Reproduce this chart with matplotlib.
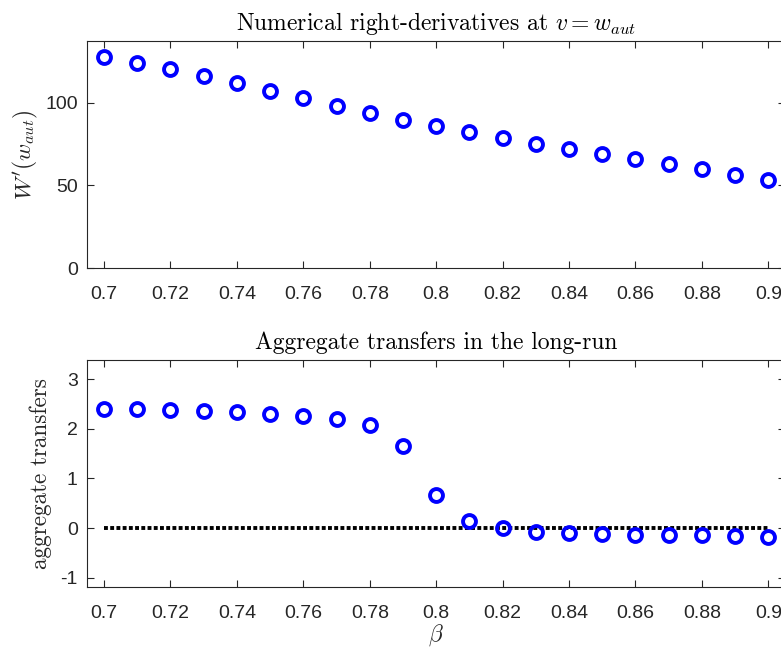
import matplotlib
matplotlib.use("Agg")
import matplotlib.pyplot as plt
import numpy as np

# discount factor grid
beta = [0.70, 0.71, 0.72, 0.73, 0.74, 0.75, 0.76, 0.77, 0.78, 0.79, 0.80,
        0.81, 0.82, 0.83, 0.84, 0.85, 0.86, 0.87, 0.88, 0.89, 0.90]

# numerical right-derivative of W at the autarky value
w_prime = [127.6, 123.9, 120.3, 116.1, 111.9, 107.4, 102.8, 98.3, 93.9, 89.8,
           85.9, 82.2, 78.8, 75.3, 72.3, 69.3, 66.3, 63.1, 59.9, 56.4, 53.2]

# long-run aggregate transfers
transfers = [2.40, 2.40, 2.38, 2.36, 2.34, 2.31, 2.27, 2.20, 2.07, 1.66, 0.66,
             0.15, 0.00, -0.07, -0.11, -0.13, -0.14, -0.15, -0.15, -0.16, -0.18]

xticks = [0.70, 0.72, 0.74, 0.76, 0.78, 0.80, 0.82, 0.84, 0.86, 0.88, 0.90]
xticklabels = ["0.7", "0.72", "0.74", "0.76", "0.78", "0.8", "0.82", "0.84",
               "0.86", "0.88", "0.9"]
yticks_top = [0, 50, 100]
yticks_bot = [-1, 0, 1, 2, 3]

plt.rcParams["mathtext.fontset"] = "cm"
plt.rcParams["axes.unicode_minus"] = False

tick_font = ["Liberation Sans", "DejaVu Sans"]
serif_font = ["cmr10", "DejaVu Serif"]
axis_col = "#262626"

fig = plt.figure(figsize=(7.81, 6.49), dpi=100)
ax1 = fig.add_axes([0.1120, 0.5870, 0.8930, 0.3498])
ax2 = fig.add_axes([0.1120, 0.0955, 0.8930, 0.3498])

mk = dict(linestyle="none", marker="o", markersize=9.3, markeredgewidth=2.8,
          markeredgecolor="#0000ff", markerfacecolor="none")

ax1.plot(beta, w_prime, **mk)
ax2.plot([beta[0], beta[-1]], [0, 0], color="black", linewidth=2.8,
         dashes=(1.0, 0.6), dash_capstyle="butt")
ax2.plot(beta, transfers, **mk)

for ax, yt in ((ax1, yticks_top), (ax2, yticks_bot)):
    ax.set_xlim(0.695, 0.905)
    ax.set_xticks(xticks)
    ax.set_xticklabels(xticklabels)
    ax.set_yticks(yt)
    ax.set_yticklabels([str(v) for v in yt])
    ax.tick_params(direction="in", top=True, right=True, length=5.3, width=0.8,
                   colors=axis_col, labelsize=14)
    ax.tick_params(axis="x", pad=13)
    ax.tick_params(axis="y", pad=7)
    for lab in ax.get_xticklabels() + ax.get_yticklabels():
        lab.set_fontfamily(tick_font)
        lab.set_color(axis_col)
    for sp in ax.spines.values():
        sp.set_color(axis_col)
        sp.set_linewidth(0.8)

ax1.set_ylim(0, 137.5)
ax2.set_ylim(-1.19, 3.39)

ax1.set_title(r"Numerical right-derivatives at $v = w_{aut}$",
              fontfamily=serif_font, fontsize=17, pad=8)
ax2.set_title("Aggregate transfers in the long-run",
              fontfamily=serif_font, fontsize=17, pad=8)
ax1.set_ylabel(r"$W'(w_{aut})$", fontsize=16.8, color=axis_col, labelpad=4)
ax2.set_ylabel("aggregate transfers", fontfamily=serif_font, fontsize=16.7,
               color=axis_col, labelpad=6)
ax2.set_xlabel(r"$\beta$", fontsize=17, color=axis_col, labelpad=0)

fig.savefig("out.png", dpi=100)
